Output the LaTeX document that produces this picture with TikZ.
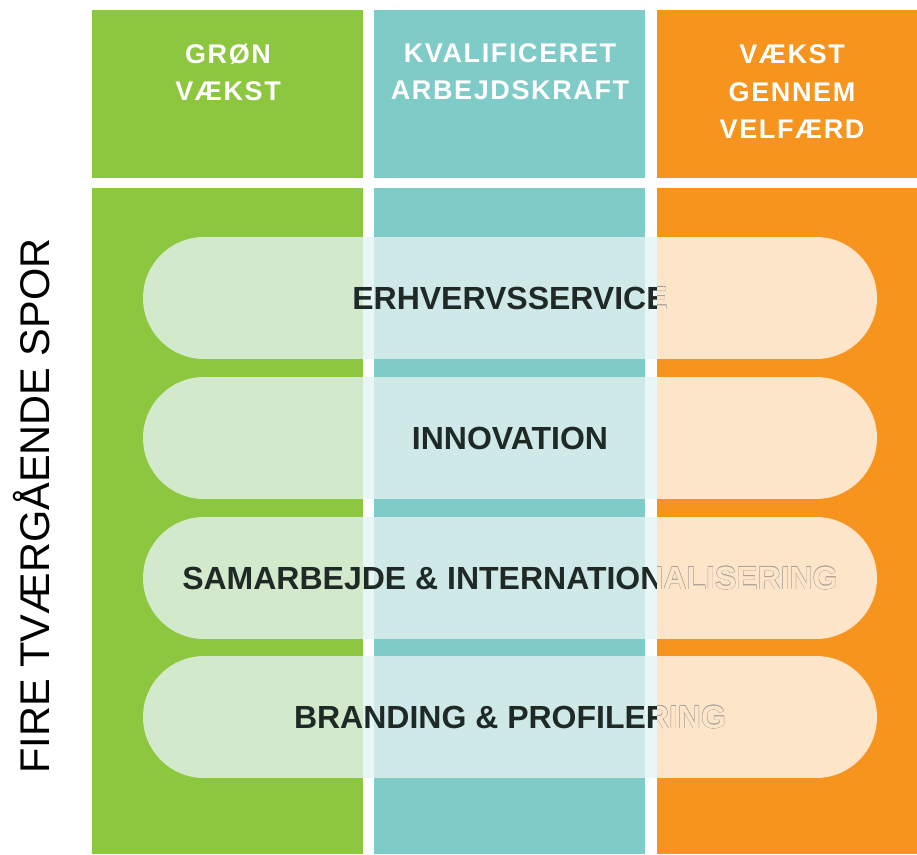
\documentclass[tikz,border=0pt]{standalone}
\usepackage{fontspec}
\setmainfont{Liberation Sans}
\newfontfamily\hdrfont[LetterSpace=6]{Liberation Sans}
\newfontfamily\pillfont{Liberation Sans}
\definecolor{cgreen}{HTML}{8DC63F}
\definecolor{cteal}{HTML}{7ECBC7}
\definecolor{corange}{HTML}{F7941D}
\definecolor{pgreen}{HTML}{D3E9CB}
\definecolor{pgap}{HTML}{E8F6F5}
\definecolor{pteal}{HTML}{CFE9E8}
\definecolor{porange}{HTML}{FDE5C9}
\definecolor{darktext}{HTML}{1F2A26}
\definecolor{olgray}{HTML}{ABA39A}
\tikzset{
  colbox/.style={draw=none},
  hdrtext/.style={inner sep=0pt, anchor=base, text=white, font=\hdrfont\bfseries\fontsize{27}{30}\selectfont},
  pilltext/.style={inner sep=0pt, anchor=base, font=\pillfont\bfseries\fontsize{32}{36}\selectfont},
  sidetext/.style={inner sep=0pt, anchor=base, rotate=90, text=black, font=\fontsize{41.5}{44}\selectfont},
}
\newcommand{\pillpath}[1]{[rounded corners=61pt] (143,#1) rectangle (877,#1+122)}
\newcommand{\onepill}[3]{%
  % #1 top y, #2 node name, #3 text
  \begin{scope}
    \clip \pillpath{#1};
    \fill[pgreen] (92,#1) rectangle (362.5,#1+122);
    \fill[pgap] (362.5,#1) rectangle (374,#1+122);
    \fill[pteal] (374,#1) rectangle (645,#1+122);
    \fill[pgap] (645,#1) rectangle (657,#1+122);
  \end{scope}
  \node[pilltext, text=darktext] (#2) at (510,#1+72) {#3};
  \begin{scope}
    \clip (657,#1) rectangle (917,#1+122);
    \clip \pillpath{#1};
    \fill[porange] (657,#1) rectangle (917,#1+122);
    \foreach \dx/\dy in {0.35/0,-0.35/0,0/0.35,0/-0.35,0.25/0.25,-0.25/0.25,0.25/-0.25,-0.25/-0.25}{
      \node[pilltext, text=olgray, xshift=\dx pt, yshift=\dy pt] at (510,#1+72) {#3};
    }
    \node[pilltext, text=porange] (#2o) at (510,#1+72) {#3};
  \end{scope}
}
\begin{document}
\begin{tikzpicture}[x=1pt,y=-1pt]
\useasboundingbox (0,0) rectangle (917,854);
\fill[white] (0,0) rectangle (917,854);
% header boxes
\fill[cgreen] (92,10) rectangle (362.5,177.5);
\fill[cteal] (374,10) rectangle (645,177.5);
\fill[corange] (657,10) rectangle (917,177.5);
% body columns
\fill[cgreen] (92,188) rectangle (362.5,854);
\fill[cteal] (374,188) rectangle (645,854);
\fill[corange] (657,188) rectangle (917,854);
% header texts
\node[hdrtext] (g1) at (228,63.3) {GRØN};
\node[hdrtext] (g2) at (228,100.3) {VÆKST};
\node[hdrtext] (t1) at (510,62.5) {KVALIFICERET};
\node[hdrtext] (t2) at (510,99.5) {ARBEJDSKRAFT};
\node[hdrtext] (o1) at (792,63.5) {VÆKST};
\node[hdrtext] (o2) at (792,101) {GENNEM};
\node[hdrtext] (o3) at (792,138.5) {VELFÆRD};
% side text
\node[sidetext] (side) at (49,506) {FIRE TVÆRGÅENDE SPOR};
% pills
\onepill{237}{p1}{ERHVERVSSERVICE}
\onepill{377}{p2}{INNOVATION}
\onepill{517}{p3}{SAMARBEJDE \& INTERNATIONALISERING}
\onepill{656}{p4}{BRANDING \& PROFILERING}
\end{tikzpicture}
\end{document}
